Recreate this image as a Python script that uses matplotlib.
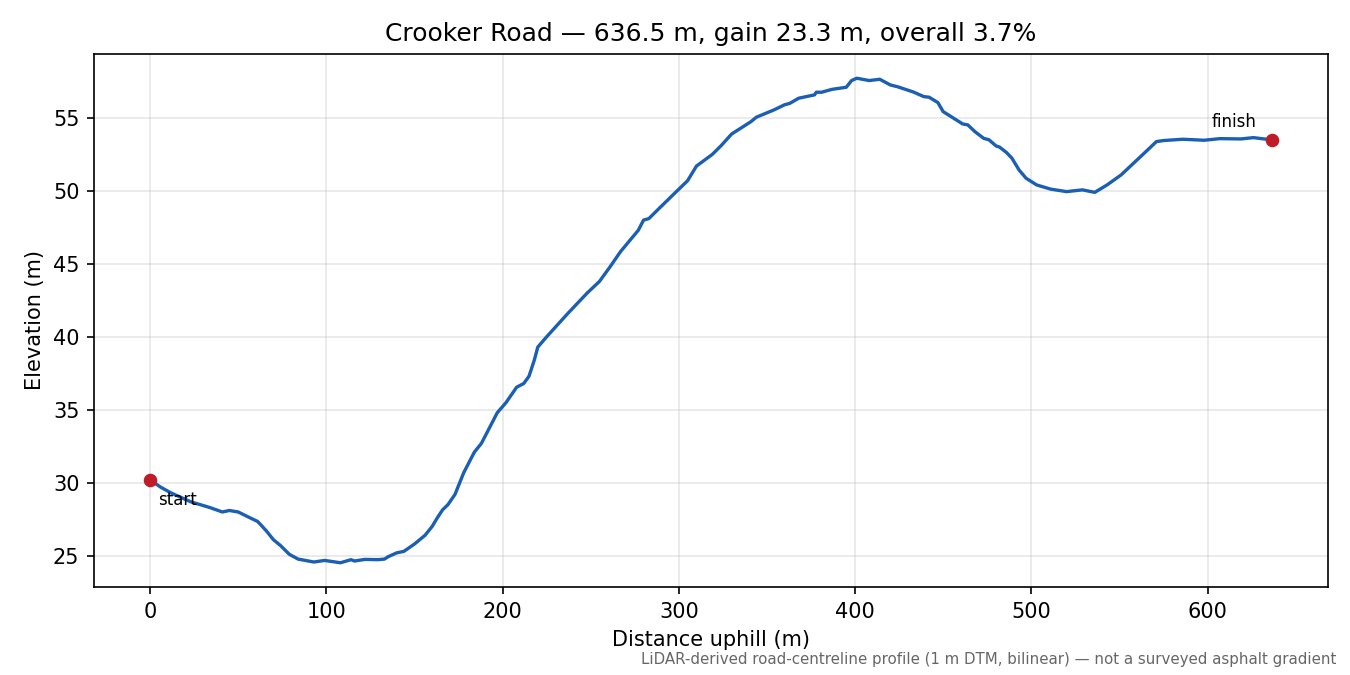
import matplotlib
matplotlib.use("Agg")
import matplotlib.pyplot as plt

# profile
dist_m = [0, 6, 12, 23, 34, 41, 45, 50, 55, 61,
          63, 66, 70, 74, 79, 84, 93, 99, 108, 114,
          116, 122, 129, 133, 135, 140, 144, 150, 156, 160,
          163, 166, 169, 173, 178, 184, 188, 197, 202, 208,
          212, 215, 218, 220, 225, 237, 248, 255, 261, 267,
          277, 280, 283, 288, 299, 305, 310, 319, 324, 330,
          341, 344, 354, 360, 363, 368, 377, 378, 381, 387,
          395, 398, 401, 408, 414, 420, 424, 433, 439, 442,
          447, 450, 455, 461, 464, 468, 473, 476, 480, 482,
          486, 489, 493, 497, 503, 511, 520, 529, 536, 543,
          551, 562, 567, 571, 575, 586, 598, 607, 619, 626,
          632, 636.5]
elev_m = [30.2, 29.7, 29.3, 28.7, 28.3, 28.0, 28.1, 28.0, 27.7, 27.35,
          27.1, 26.7, 26.1, 25.7, 25.1, 24.77, 24.57, 24.68, 24.52, 24.73,
          24.64, 24.75, 24.73, 24.77, 24.93, 25.2, 25.3, 25.8, 26.4, 27.0,
          27.6, 28.15, 28.5, 29.2, 30.7, 32.1, 32.7, 34.8, 35.5, 36.55,
          36.8, 37.3, 38.4, 39.3, 40.0, 41.6, 43.0, 43.8, 44.8, 45.85,
          47.3, 48.0, 48.1, 48.7, 50.0, 50.7, 51.7, 52.5, 53.1, 53.9,
          54.75, 55.05, 55.55, 55.9, 56.0, 56.35, 56.58, 56.76, 56.76, 56.96,
          57.1, 57.56, 57.72, 57.56, 57.65, 57.26, 57.14, 56.78, 56.46, 56.42,
          56.05, 55.43, 55.05, 54.59, 54.52, 54.06, 53.6, 53.5, 53.08, 53.0,
          52.62, 52.24, 51.44, 50.87, 50.41, 50.12, 49.95, 50.07, 49.9, 50.41,
          51.1, 52.35, 52.92, 53.38, 53.45, 53.54, 53.47, 53.58, 53.56, 53.65,
          53.56, 53.5]

road = "Crooker Road"
length = dist_m[-1]
gain = elev_m[-1] - elev_m[0]
grade = gain / length * 100

fig, ax = plt.subplots(figsize=(9, 4.5), dpi=150)
fig.subplots_adjust(left=0.0696, right=0.9837, top=0.92, bottom=0.1304)

ax.plot(dist_m, elev_m, color="#1a5fb4", lw=1.6, solid_joinstyle="round")
ax.plot([dist_m[0], dist_m[-1]], [elev_m[0], elev_m[-1]], "o",
        color="#c01c28", ms=5.5, zorder=3)

ax.annotate("start", (dist_m[0], elev_m[0]), xytext=(4, -9.5),
            textcoords="offset points", ha="left", va="center", fontsize=8)
ax.annotate("finish", (dist_m[-1], elev_m[-1]), xytext=(-7.5, 8.5),
            textcoords="offset points", ha="right", va="center", fontsize=8)

ax.grid(True, alpha=0.3)
ax.set_xlabel("Distance uphill (m)")
ax.set_ylabel("Elevation (m)")
ax.set_title(f"{road} \u2014 {length:.1f} m, gain {gain:.1f} m, overall {grade:.1f}%",
             fontsize=12)

fig.text(0.99, 0.012,
         "LiDAR-derived road-centreline profile (1 m DTM, bilinear) \u2014 not a surveyed asphalt gradient",
         ha="right", va="bottom", fontsize=7.2, color="#666666")

fig.savefig("out.png", dpi=150)
